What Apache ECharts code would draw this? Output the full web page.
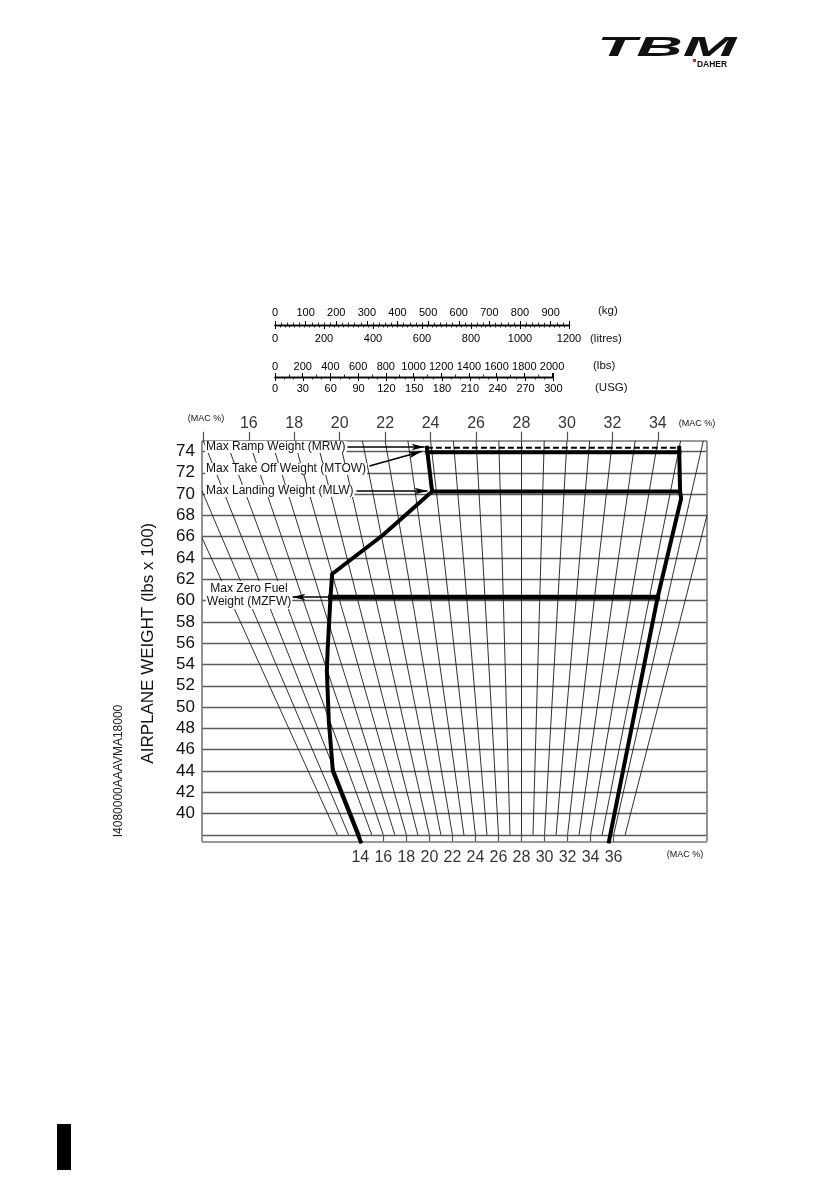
<!DOCTYPE html>
<html><head><meta charset="utf-8">
<script src="https://cdn.jsdelivr.net/npm/echarts@6/dist/echarts.min.js"></script>
<style>html,body{margin:0;padding:0;background:#fff}#c{width:827px;height:1202px}</style>
</head><body><div id="c"></div>
<script>
// ---------- data ----------
const macLineValues = [12,13,14,15,16,17,18,19,20,21,22,23,24,25,26,27,28,29,30,31,32,33,34,35,36,37];
const macTopLabels = [16,18,20,22,24,26,28,30,32,34];
const macTopTicks = [14,16,18,20,22,24,26,28,30,32,34];
const macBottomLabels = [14,16,18,20,22,24,26,28,30,32,34,36];
const weightGridLines = [38,40,42,44,46,48,50,52,54,56,58,60,62,64,66,68,70,72,74];
const weightTickLabels = [40,42,44,46,48,50,52,54,56,58,60,62,64,66,68,70,72,74];
// envelope, [MAC %, weight (lbs x 100)]
const forwardLimit = [[23.8,74.35],[23.8,70.24],[21.09,66.16],[18.0,62.5],[17.55,60.32],[16.45,55.4],[15.97,53.4],[14.94,48.7],[13.85,44.0],[13.8,37.38]];
const aftLimit = [[35.0,74.35],[35.45,70.24],[35.57,69.6],[35.45,60.32],[35.72,37.38]];
const MRW = 74.35, MTOW = 73.94, MLW = 70.24, MZFW = 60.32;
// conversion rulers
const kgScale = {min:0, max:960, step:100};
const litreScale = {min:0, max:1200, step:200};
const lbsScale = {min:0, max:2010, step:200};
const usgScale = {min:0, max:300, step:30};

// ---------- geometry helpers ----------
const W_TOP = 75, W_BOT = 37.38, W_LOW = 38;
const U_LEFT = -1054.5, U_RIGHT = 612.2;
const MAC_REF = 28;
function u(mac, w){ return w * (mac - MAC_REF); }
function interpMac(poly, w){
  for (let i=0;i<poly.length-1;i++){
    const a=poly[i], b=poly[i+1];
    const lo=Math.min(a[1],b[1]), hi=Math.max(a[1],b[1]);
    if (w>=lo && w<=hi){ const t=(w-a[1])/(b[1]-a[1]); return a[0]+t*(b[0]-a[0]); }
  }
  return poly[poly.length-1][0];
}
const toXY = p => [u(p[0],p[1]), p[1]];

const gridLines = weightGridLines.map(w => ({coords:[[U_LEFT,w],[U_RIGHT,w]]}));
const frameLines = [
  {coords:[[U_LEFT,W_TOP],[U_RIGHT,W_TOP]]},
  {coords:[[U_LEFT,W_BOT],[U_RIGHT,W_BOT]]},
  {coords:[[U_LEFT,W_BOT],[U_LEFT,W_TOP]]},
  {coords:[[U_RIGHT,W_BOT],[U_RIGHT,W_TOP]]}
];
const macLines = macLineValues.map(m => {
  const d = m - MAC_REF;
  let wmax = W_TOP;
  if (d < 0) wmax = Math.min(W_TOP, U_LEFT/d);
  else if (d > 0) wmax = Math.min(W_TOP, U_RIGHT/d);
  return {coords:[[u(m,W_LOW),W_LOW],[u(m,wmax),wmax]]};
});
const tickLines = [];
macTopTicks.forEach(m => tickLines.push({coords:[[u(m,W_TOP),W_TOP],[u(m,W_TOP),75.85]]}));
macBottomLabels.forEach(m => tickLines.push({coords:[[u(m,W_LOW),W_LOW],[u(m,W_LOW),W_BOT]]}));

const hline = w => [toXY([interpMac(forwardLimit,w),w]), toXY([interpMac(aftLimit,w),w])];

const FONT = "'Liberation Sans', Arial, Helvetica, sans-serif";
const labelSet = new Set(weightTickLabels);

function rulerAxis(grid, pos, sc, minorSplit, margin){
  return {
    gridIndex:grid, type:'value', position:pos, min:sc.min, max:sc.max, interval:sc.step,
    axisLine:{show:true, lineStyle:{color:'#000', width:1.3}},
    axisTick:{show:true, length:4, lineStyle:{color:'#000', width:1}},
    minorTick:{show:true, splitNumber:minorSplit, length:2.5, lineStyle:{color:'#000', width:0.8}},
    splitLine:{show:false}, minorSplitLine:{show:false},
    axisLabel:{fontSize:11, color:'#000', margin:margin, fontFamily:FONT,
      formatter: v => (v % sc.step === 0 ? String(v) : '')}
  };
}

const chart = echarts.init(document.getElementById('c'), null, {renderer:'canvas', width:827, height:1202});
const thick = (data, w) => ({type:'line', xAxisIndex:4, yAxisIndex:2, data:data, showSymbol:false, symbol:'none',
  lineStyle:{color:'#000', width:w||4, cap:'square', join:'miter'}, z:5, silent:true});

const option = {
  animation:false,
  textStyle:{fontFamily:FONT},
  grid:[
    {left:275, top:325, width:294, height:0},
    {left:275, top:377, width:278.4, height:0},
    {left:202, top:430.2, width:505, height:426}
  ],
  xAxis:[
    rulerAxis(0,'top',kgScale,5,7),
    rulerAxis(0,'bottom',litreScale,10,8),
    rulerAxis(1,'top',lbsScale,2,5),
    rulerAxis(1,'bottom',usgScale,3,6),
    {gridIndex:2, type:'value', min:U_LEFT, max:U_RIGHT, show:false}
  ],
  yAxis:[
    {gridIndex:0, type:'value', show:false, min:0, max:1},
    {gridIndex:1, type:'value', show:false, min:0, max:1},
    {gridIndex:2, type:'value', min:36, max:76, interval:2,
     axisLine:{show:false}, axisTick:{show:false}, splitLine:{show:false},
     axisLabel:{fontSize:17, color:'#111', margin:7, fontFamily:FONT, formatter: v => labelSet.has(v) ? String(v) : ''},
     name:'AIRPLANE WEIGHT (lbs x 100)', nameLocation:'middle', nameRotate:90, nameGap:45,
     nameTextStyle:{fontSize:17, color:'#111', fontFamily:FONT}}
  ],
  series:[
    {type:'lines', coordinateSystem:'cartesian2d', xAxisIndex:4, yAxisIndex:2, data:gridLines,
     lineStyle:{color:'#5a5a5a', width:1.4, opacity:1}, silent:true, z:1},
    {type:'lines', coordinateSystem:'cartesian2d', xAxisIndex:4, yAxisIndex:2, data:frameLines,
     lineStyle:{color:'#777', width:1.6, opacity:1}, silent:true, z:1},
    {type:'lines', coordinateSystem:'cartesian2d', xAxisIndex:4, yAxisIndex:2, data:macLines,
     lineStyle:{color:'#1a1a1a', width:0.9, opacity:1}, silent:true, z:2},
    {type:'lines', coordinateSystem:'cartesian2d', xAxisIndex:4, yAxisIndex:2, data:tickLines,
     lineStyle:{color:'#555', width:1.2, opacity:1}, silent:true, z:2},
    thick(forwardLimit.map(toXY)),
    thick(aftLimit.map(toXY)),
    thick(hline(MTOW)),
    thick(hline(MLW)),
    thick(hline(MZFW), 5),
    {type:'line', xAxisIndex:4, yAxisIndex:2, data:hline(MRW), showSymbol:false, symbol:'none', silent:true, z:4,
     lineStyle:{color:'#000', width:2, type:[6,3]},
     markLine:{silent:true, symbol:['none','arrow'], symbolSize:[5,13], label:{show:false},
       lineStyle:{color:'#000', width:1.6, type:'solid'},
       data:[
         [{coord:toXY([20.28,74.42])},{coord:toXY([23.70,74.42])}],
         [{coord:toXY([21.09,72.64])},{coord:toXY([23.54,74.0])}],
         [{coord:toXY([20.25,70.29])},{coord:toXY([23.59,70.29])}],
         [{coord:toXY([17.50,60.34])},{coord:toXY([15.47,60.34])}]
       ]}},
    {type:'scatter', xAxisIndex:4, yAxisIndex:2, symbolSize:0.1, itemStyle:{color:'#000'}, silent:true, z:6,
     data: macTopLabels.map(m => ({value:[u(m,W_TOP),W_TOP], name:String(m)})),
     label:{show:true, position:'top', distance:9, formatter:'{b}', fontSize:16, color:'#000', fontFamily:FONT}},
    {type:'scatter', xAxisIndex:4, yAxisIndex:2, symbolSize:0.1, itemStyle:{color:'#000'}, silent:true, z:6,
     data: macBottomLabels.map(m => ({value:[u(m,W_LOW),W_BOT], name:String(m)})),
     label:{show:true, position:'bottom', distance:8, formatter:'{b}', fontSize:16, color:'#000', fontFamily:FONT}}
  ],
  graphic:[
    // logo
    {type:'text', x:597, y:48, scaleX:2.3, z:20, style:{text:'TBM', font:'italic bold 28px '+FONT, fill:'#111', textAlign:'left', textVerticalAlign:'middle'}},
    {type:'text', x:712, y:65, z:20, style:{text:'DAHER', font:'bold 8.5px '+FONT, fill:'#111', textAlign:'center', textVerticalAlign:'middle'}},
    {type:'rect', z:20, shape:{x:693, y:59, width:3, height:3}, style:{fill:'#d2232a'}},
    // ruler units
    {type:'text', x:598, y:311, z:20, style:{text:'(kg)', font:'11.5px '+FONT, fill:'#111', textVerticalAlign:'middle'}},
    {type:'text', x:590, y:339, z:20, style:{text:'(litres)', font:'11.5px '+FONT, fill:'#111', textVerticalAlign:'middle'}},
    {type:'text', x:593, y:366, z:20, style:{text:'(lbs)', font:'11.5px '+FONT, fill:'#111', textVerticalAlign:'middle'}},
    {type:'text', x:595, y:388, z:20, style:{text:'(USG)', font:'11.5px '+FONT, fill:'#111', textVerticalAlign:'middle'}},
    // MAC % captions
    {type:'text', x:206, y:419, z:20, style:{text:'(MAC %)', font:'9px '+FONT, fill:'#111', textAlign:'center', textVerticalAlign:'middle'}},
    {type:'text', x:697, y:424, z:20, style:{text:'(MAC %)', font:'9px '+FONT, fill:'#111', textAlign:'center', textVerticalAlign:'middle'}},
    {type:'text', x:685, y:855, z:20, style:{text:'(MAC %)', font:'9px '+FONT, fill:'#111', textAlign:'center', textVerticalAlign:'middle'}},
    // annotations
    {type:'text', x:205, y:447, z:20, style:{text:'Max Ramp Weight (MRW)', font:'12px '+FONT, fill:'#111', textVerticalAlign:'middle', backgroundColor:'#fff', padding:[0,1,0,1]}},
    {type:'text', x:205, y:469, z:20, style:{text:'Max Take Off Weight (MTOW)', font:'12px '+FONT, fill:'#111', textVerticalAlign:'middle', backgroundColor:'#fff', padding:[0,1,0,1]}},
    {type:'text', x:205, y:491, z:20, style:{text:'Max Landing Weight (MLW)', font:'12px '+FONT, fill:'#111', textVerticalAlign:'middle', backgroundColor:'#fff', padding:[0,1,0,1]}},
    {type:'text', x:249, y:595, z:20, style:{text:'Max Zero Fuel\nWeight (MZFW)', font:'12px '+FONT, fill:'#111', textAlign:'center', textVerticalAlign:'middle', lineHeight:13, backgroundColor:'#fff', padding:[1,1,1,1]}},
    // figure id
    {type:'text', x:119, y:771, rotation:Math.PI/2, z:20, style:{text:'I4080000AAAVMA18000', font:'12px '+FONT, fill:'#222', textAlign:'center', textVerticalAlign:'middle'}},
    // page marker
    {type:'rect', z:20, shape:{x:57, y:1124, width:14, height:46}, style:{fill:'#000'}}
  ]
};
chart.setOption(option);
</script></body></html>
